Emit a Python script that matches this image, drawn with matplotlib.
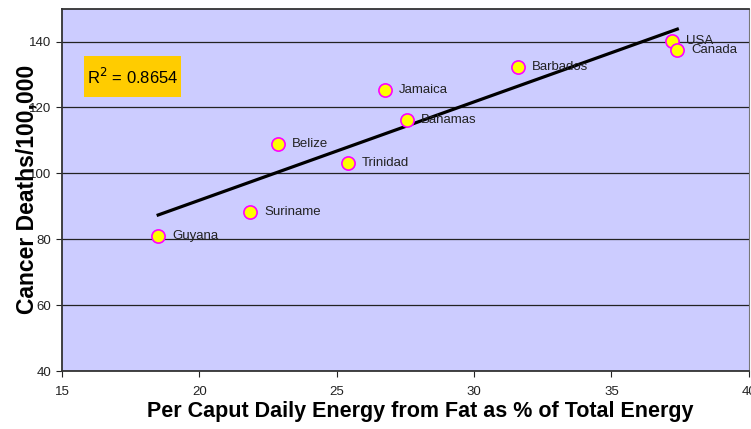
import numpy as np
import matplotlib
matplotlib.use("Agg")
import matplotlib.pyplot as plt
from matplotlib.patches import Rectangle

plt.rcParams["font.family"] = ["Liberation Sans", "DejaVu Sans"]

countries = ["Guyana", "Suriname", "Belize", "Trinidad", "Jamaica",
             "Bahamas", "Barbados", "USA", "Canada"]
fat_pct = [18.5, 21.85, 22.85, 25.4, 26.75, 27.55, 31.6, 37.2, 37.4]
deaths = [81.0, 88.4, 108.9, 103.1, 125.3, 116.2, 132.4, 140.2, 137.3]
r2_text = "R$^2$ = 0.8654"

fig = plt.figure(figsize=(7.51, 4.29), dpi=100)
ax = fig.add_axes([0.0826, 0.135, 0.9144, 0.845])
ax.set_facecolor("#CCCCFF")

ax.set_xlim(15, 40)
ax.set_ylim(40, 150)
ax.set_xticks([15, 20, 25, 30, 35, 40])
ax.set_yticks([40, 60, 80, 100, 120, 140])
ax.yaxis.grid(True, color="#222222", linewidth=0.9)
ax.set_axisbelow(True)

# linear trend line
slope, intercept = np.polyfit(fat_pct, deaths, 1)
xs = np.array([min(fat_pct), max(fat_pct)])
ax.plot(xs, slope * xs + intercept, color="black", linewidth=2.3, zorder=3)

ax.plot(fat_pct, deaths, linestyle="none", marker="o", markersize=9.5,
        markerfacecolor="#FFFF00", markeredgecolor="#FF00FF",
        markeredgewidth=1.2, zorder=4)

for name, x, y in zip(countries, fat_pct, deaths):
    ax.annotate(name, (x, y), xytext=(10, 0), textcoords="offset points",
                fontsize=9.5, color="#222222", va="center", zorder=5)

# R squared box
ax.add_patch(Rectangle((0.032, 0.756), 0.141, 0.113, transform=ax.transAxes,
                       facecolor="#FFCC00", edgecolor="none", zorder=5))
ax.text(0.1025, 0.812, r2_text, transform=ax.transAxes, fontsize=12,
        va="center", ha="center", zorder=6)

ax.set_xlabel("Per Caput Daily Energy from Fat as % of Total Energy",
              fontsize=15.5, fontweight="bold")
ax.xaxis.set_label_coords(0.521, -0.083)
ax.set_ylabel("Cancer Deaths/100,000", fontsize=16.5, fontweight="bold")
ax.yaxis.set_label_coords(-0.034, 0.5)

ax.tick_params(axis="both", labelsize=9.5, colors="#222222", length=4,
               direction="out")
ax.tick_params(axis="x", pad=7)
for side in ["left", "bottom", "top"]:
    ax.spines[side].set_color("#333333")
    ax.spines[side].set_linewidth(1.3)
ax.spines["right"].set_color("#777777")

fig.savefig("out.png", dpi=100)
